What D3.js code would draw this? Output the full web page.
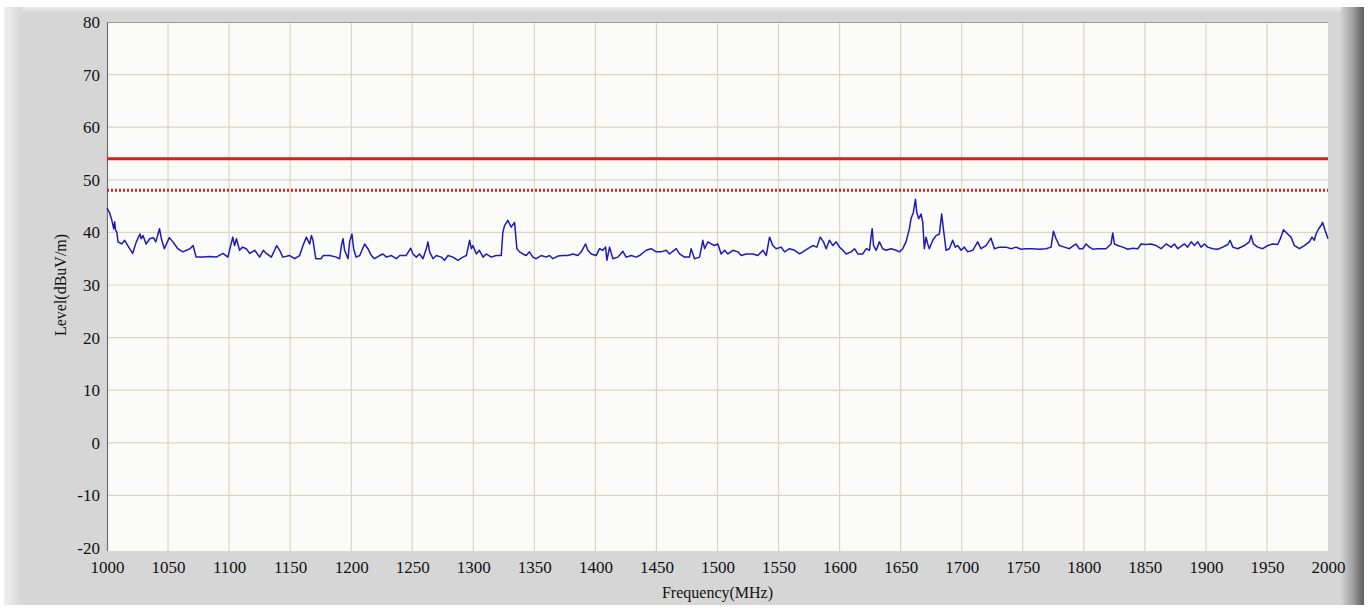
<!DOCTYPE html>
<html>
<head>
<meta charset="utf-8">
<script src="https://cdn.jsdelivr.net/npm/d3@7"></script>
<style>
  html, body { margin: 0; padding: 0; background: #ffffff; }
  svg { display: block; }
  .tick text { font-family: "Liberation Serif", "Times New Roman", serif; font-size: 17px; fill: #111; }
  .axis-title { font-family: "Liberation Serif", "Times New Roman", serif; font-size: 16px; fill: #111; }
</style>
</head>
<body>
<svg id="chart" width="1370" height="608"></svg>
<script>
// Measured emission level across 1–2 GHz (MHz, dBuV/m)
const freqMHz = [
  1000, 1002, 1004, 1005.5, 1006.3, 1007, 1008, 1009, 1012, 1014.5, 1017, 1021, 1024, 1027, 1028, 1029.5,
  1032, 1035, 1038, 1040, 1043, 1044.5, 1047, 1051, 1054, 1058, 1062, 1068, 1070.5, 1073, 1078.6, 1084,
  1089.5, 1095, 1099, 1103, 1104.5, 1106, 1108.6, 1111, 1114, 1117, 1121, 1125, 1128, 1130.5, 1134.6, 1139,
  1141.4, 1144, 1149.6, 1153.7, 1157.8,
  1160.5, 1163.3, 1166, 1167.4, 1168.7, 1171, 1175.5, 1177, 1182.4, 1187.8, 1190.5, 1192, 1193.3, 1194.6,
  1197.4, 1198.7, 1200.6, 1202, 1204, 1207, 1211, 1213.7, 1216.5, 1219, 1223.3, 1226, 1228.8, 1232.9, 1237,
  1239.7, 1245, 1248.7, 1250.6, 1253.3, 1256, 1258.8, 1261.5, 1262.9, 1264.2, 1267, 1269.7, 1273.8, 1276.5,
  1279.3, 1283.3, 1287.4, 1291.5, 1294.3, 1297, 1298.4, 1299.7, 1302.5, 1305, 1308, 1310.6, 1314.7, 1318.8,
  1322.9,
  1324.2, 1325.6, 1328.3, 1331, 1333.8, 1335.7, 1337.9, 1340.6, 1343.3, 1346, 1348.8, 1351.5, 1355.6, 1359.7,
  1362.4, 1365.2, 1369.3, 1373.4, 1377.5, 1381.5, 1385.6, 1388.4, 1392, 1393.8, 1396.6, 1400.6, 1403.4, 1406,
  1408.3, 1409.4, 1411.6, 1414.3, 1418.4, 1422.5, 1425.2, 1429.3, 1433.4, 1436.1, 1441.6, 1445.7, 1449.8,
  1453.9, 1458, 1460.7, 1466.2, 1468.9, 1473, 1477, 1478.4, 1481.2, 1485.3,
  1488, 1489.4, 1492.1, 1494.9, 1497.6, 1500.3, 1503, 1505.8, 1508.5, 1512.6, 1516.7, 1519.4, 1523.5, 1529,
  1533, 1537.2, 1539.9, 1542.6, 1545.3, 1548, 1552.2, 1554.9, 1559, 1563.1, 1567.2, 1569.9, 1574, 1578.1,
  1581.4, 1584.1, 1586.8, 1589, 1591.7, 1594.5, 1597.2, 1599.9, 1602.7, 1605.4, 1609.5, 1612.2, 1614.9, 1619,
  1621.8, 1624.5, 1625.9, 1626.7, 1627.8, 1630,
  1632.6, 1635.3, 1638, 1642.2, 1646.2, 1649, 1651.7, 1654.4, 1657.2, 1658.5, 1660.4, 1662.1, 1663.2, 1664.8,
  1666.7, 1668.1, 1669.4, 1670.8, 1672.2, 1673.5, 1676.3, 1679, 1681.7, 1683.6, 1685, 1687.2, 1689.9, 1692.6,
  1694.8, 1696.7, 1699.5, 1702.2, 1704.9, 1709, 1713.1, 1715.8, 1719.9, 1724, 1726.8, 1730.9, 1736.3, 1740.4,
  1744.5, 1748.6, 1752.7, 1758.1, 1763.6, 1769.1, 1773.2, 1775.1, 1777.3, 1780, 1784.1, 1788.2, 1793.6, 1796.4,
  1799.1, 1801.9, 1804.6, 1807.3, 1811.4, 1818.2, 1822.3, 1823.7, 1825.1, 1827.8, 1831.9, 1836, 1840, 1844.2,
  1846.9, 1851, 1855.1, 1859.2, 1863.3, 1867.4, 1871.5, 1874.2, 1877,
  1882.4, 1885.1, 1887.9, 1890.6, 1893.3, 1896, 1898.8, 1901.5, 1905.6, 1909.7, 1913.8, 1917.9, 1919.8, 1922,
  1926, 1931.5, 1935.6, 1937, 1938.9, 1942.4, 1946.5, 1950.6, 1954.7, 1958.8, 1961.5, 1963.5, 1967, 1969.7,
  1972.5, 1976.6, 1980.6, 1984.7, 1986.9, 1988.8, 1990.2, 1992.4, 1994.3, 1995.6, 1997.6, 2000
];
const levelDb = [
  44.6, 43.8, 42.3, 40.7, 42.0, 40.4, 40.1, 38.2, 37.8, 38.5, 37.5, 36.0, 38.2, 39.7, 38.8, 39.4,
  37.8, 38.8, 39.0, 38.2, 40.7, 38.8, 36.9, 39.0, 38.2, 36.9, 36.3, 36.9, 37.5, 35.3, 35.3, 35.4,
  35.3, 36.0, 35.3, 39.1, 37.5, 38.8, 36.6, 37.2, 36.9, 36.0, 36.6, 35.3, 36.6, 36.0, 35.3, 37.5,
  36.6, 35.3, 35.6, 35.0, 35.6,
  37.5, 39.1, 37.8, 39.4, 38.5, 35.0, 35.0, 35.6, 35.6, 35.3, 35.0, 37.5, 38.8, 36.6,
  35.0, 38.2, 39.7, 36.9, 35.3, 35.6, 37.8, 36.9, 35.6, 35.0, 35.6, 35.9, 35.3, 35.6, 35.0,
  35.6, 35.6, 37.0, 35.9, 35.3, 35.9, 35.0, 36.9, 38.2, 36.3, 35.0, 35.6, 35.3, 34.7,
  35.6, 35.3, 34.7, 35.3, 35.6, 38.5, 36.9, 37.5, 35.9, 36.6, 35.3, 35.9, 35.3, 35.6,
  35.6,
  40.0, 41.3, 42.3, 41.0, 41.9, 36.9, 36.3, 35.9, 35.6, 36.3, 35.3, 35.0, 35.6, 35.3,
  35.6, 35.0, 35.5, 35.6, 35.6, 35.9, 35.6, 36.3, 37.8, 36.6, 35.9, 35.6, 36.9, 36.6,
  37.2, 34.7, 37.2, 35.0, 35.3, 36.4, 35.3, 35.6, 35.3, 35.6, 36.6, 36.9, 36.3,
  36.3, 36.6, 35.9, 36.9, 35.9, 35.3, 35.3, 36.9, 35.0, 35.3,
  38.5, 36.9, 38.2, 37.8, 37.5, 37.8, 35.9, 36.6, 35.9, 36.6, 36.3, 35.6, 35.9, 35.9,
  35.6, 36.6, 35.6, 39.1, 37.5, 36.9, 37.2, 36.3, 36.9, 36.6, 35.9, 36.3, 36.9, 37.5,
  37.2, 39.1, 38.2, 36.9, 38.5, 37.5, 38.2, 37.2, 36.6, 35.9, 36.3, 36.9, 35.9, 35.9,
  36.9, 36.6, 39.4, 40.7, 37.5, 36.6,
  38.2, 36.9, 36.6, 36.9, 36.6, 36.3, 36.9, 38.2, 40.7, 42.6, 43.8, 46.3, 43.8, 42.6,
  43.5, 41.9, 36.9, 39.1, 37.8, 36.9, 38.5, 39.4, 39.7, 43.5, 40.7, 36.6, 36.9, 38.5,
  37.2, 37.5, 36.6, 37.2, 36.3, 36.6, 38.2, 36.9, 37.5, 38.9, 36.9, 37.2, 37.2, 36.9,
  37.2, 36.8, 36.9, 36.9, 36.8, 36.9, 37.2, 40.2, 38.8, 37.5, 37.2, 36.9, 37.8, 36.9,
  36.9, 37.8, 37.2, 36.8, 36.9, 36.9, 37.8, 39.9, 37.8, 37.5, 37.2, 36.8, 37.0, 36.9,
  37.8, 37.7, 37.8, 37.5, 36.9, 37.8, 37.2, 37.8, 36.9,
  37.8, 37.2, 38.2, 37.5, 38.2, 37.2, 37.8, 37.2, 36.9, 36.8, 37.2, 37.7, 38.5, 37.2,
  36.9, 37.5, 38.2, 39.4, 37.8, 37.2, 36.9, 37.5, 37.8, 37.7, 39.1, 40.5, 39.7, 39.1,
  37.5, 36.9, 37.5, 38.2, 39.1, 38.5, 39.7, 40.7, 41.3, 41.9, 40.4, 38.8
];

// Limit lines (dBuV/m)
const limitPeak = 54;
const limitAvg = 48;

// Axis ticks
const xTicks = [1000, 1050, 1100, 1150, 1200, 1250, 1300, 1350, 1400, 1450, 1500, 1550, 1600,
                1650, 1700, 1750, 1800, 1850, 1900, 1950, 2000];
const yTicks = [-20, -10, 0, 10, 20, 30, 40, 50, 60, 70, 80];
const xTitle = "Frequency(MHz)";
const yTitle = "Level(dBuV/m)";

const svg = d3.select("#chart");

// Window frame
const defs = svg.append("defs");
const rightShade = defs.append("linearGradient").attr("id", "rightShade").attr("x1", 0).attr("x2", 1);
rightShade.append("stop").attr("offset", "0%").attr("stop-color", "#d2d2d2");
rightShade.append("stop").attr("offset", "45%").attr("stop-color", "#a8a8a8");
rightShade.append("stop").attr("offset", "100%").attr("stop-color", "#5c5c5c");
const leftShade = defs.append("linearGradient").attr("id", "leftShade").attr("x1", 0).attr("x2", 1);
leftShade.append("stop").attr("offset", "0%").attr("stop-color", "#f0f0f0");
leftShade.append("stop").attr("offset", "100%").attr("stop-color", "#d6d6d6");
const topShade = defs.append("linearGradient").attr("id", "topShade").attr("x1", 0).attr("x2", 0).attr("y1", 0).attr("y2", 1);
topShade.append("stop").attr("offset", "0%").attr("stop-color", "#ececec");
topShade.append("stop").attr("offset", "100%").attr("stop-color", "#d6d6d6");

svg.append("rect").attr("x", 4).attr("y", 7).attr("width", 1338).attr("height", 598).attr("fill", "#d6d6d6");
svg.append("rect").attr("x", 4).attr("y", 7).attr("width", 1338).attr("height", 6).attr("fill", "url(#topShade)");
svg.append("rect").attr("x", 4).attr("y", 7).attr("width", 18).attr("height", 598).attr("fill", "url(#leftShade)");
svg.append("rect").attr("x", 1341).attr("y", 7).attr("width", 23).attr("height", 598).attr("fill", "url(#rightShade)");

// Plot area
const plot = { left: 107, right: 1328, top: 22, bottom: 548, floor: 551 };
const x = d3.scaleLinear().domain([1000, 2000]).range([plot.left, plot.right]);
const y = d3.scaleLinear().domain([-20, 80]).range([plot.bottom, plot.top]);

svg.append("rect")
  .attr("x", plot.left).attr("y", plot.top)
  .attr("width", plot.right - plot.left).attr("height", plot.floor - plot.top)
  .attr("fill", "#fbfbfa");

// Grid
const grid = svg.append("g").attr("stroke", "#d9d5c3").attr("stroke-width", 1.2);
grid.selectAll("line.v").data(xTicks.slice(1, -1)).join("line")
  .attr("x1", d => x(d)).attr("x2", d => x(d))
  .attr("y1", plot.top).attr("y2", plot.floor);
grid.selectAll("line.h").data(yTicks.slice(1, -1)).join("line")
  .attr("x1", plot.left).attr("x2", plot.right)
  .attr("y1", d => y(d)).attr("y2", d => y(d));

// Plot border (top and left)
svg.append("line").attr("x1", plot.left).attr("x2", plot.right).attr("y1", plot.top + 0.5).attr("y2", plot.top + 0.5)
  .attr("stroke", "#9a9a9a").attr("stroke-width", 1);
svg.append("line").attr("x1", plot.left + 0.5).attr("x2", plot.left + 0.5).attr("y1", plot.top).attr("y2", plot.floor)
  .attr("stroke", "#6e6e6e").attr("stroke-width", 1.2);

// Axes (labels only); plain hyphen for negative values
const plainNum = d => String(d);
const xAxis = d3.axisBottom(x).tickValues(xTicks).tickSize(0).tickPadding(13).tickFormat(plainNum);
svg.append("g").attr("transform", `translate(0,${plot.bottom})`).call(xAxis)
  .call(g => g.select(".domain").remove());

const yAxis = d3.axisLeft(y).tickValues(yTicks).tickSize(0).tickPadding(7).tickFormat(plainNum);
svg.append("g").attr("transform", `translate(${plot.left},0)`).call(yAxis)
  .call(g => g.select(".domain").remove());

svg.selectAll(".tick text").attr("font-family", null).attr("font-size", null);

// Axis titles
svg.append("text").attr("class", "axis-title")
  .attr("x", (plot.left + plot.right) / 2).attr("y", 598)
  .attr("text-anchor", "middle").text(xTitle);
svg.append("text").attr("class", "axis-title")
  .attr("transform", `translate(66,${(plot.top + plot.bottom) / 2}) rotate(-90)`)
  .attr("text-anchor", "middle").text(yTitle);

// Limit lines
svg.append("line")
  .attr("x1", x(1000)).attr("x2", x(2000))
  .attr("y1", y(limitPeak)).attr("y2", y(limitPeak))
  .attr("stroke", "#d81e1e").attr("stroke-width", 3);
svg.append("line")
  .attr("x1", x(1000)).attr("x2", x(2000))
  .attr("y1", y(limitAvg)).attr("y2", y(limitAvg))
  .attr("stroke", "#e01e1e").attr("stroke-width", 3).attr("stroke-dasharray", "2,2");

// Measured trace
const trace = freqMHz.map((f, i) => [f, levelDb[i]]);
svg.append("path")
  .datum(trace)
  .attr("fill", "none")
  .attr("stroke", "#1c1cb4")
  .attr("stroke-width", 1.5)
  .attr("stroke-linejoin", "round")
  .attr("d", d3.line().x(d => x(d[0])).y(d => y(d[1])));
</script>
</body>
</html>
